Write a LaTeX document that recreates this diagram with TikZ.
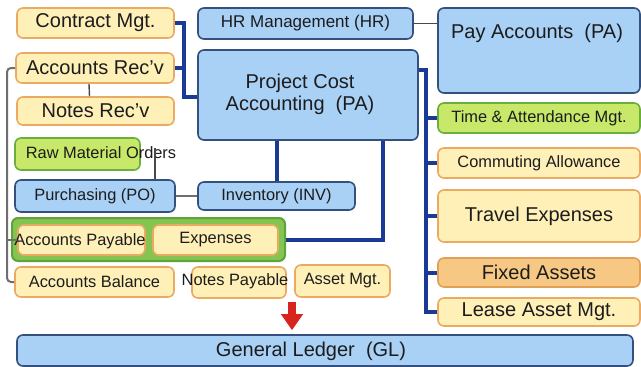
\documentclass[tikz,border=0pt]{standalone}
\usepackage{fontspec}
\setmainfont{Liberation Sans}
\usetikzlibrary{arrows.meta}
\definecolor{yfill}{HTML}{FFF0B8}
\definecolor{yline}{HTML}{EBAA62}
\definecolor{bfill}{HTML}{A9D0F5}
\definecolor{bline}{HTML}{34507E}
\definecolor{gfill}{HTML}{C8E86A}
\definecolor{gline}{HTML}{6AAE3C}
\definecolor{grpfill}{HTML}{84C552}
\definecolor{grpline}{HTML}{5FA33A}
\definecolor{ofill}{HTML}{F7C883}
\definecolor{oline}{HTML}{E0A058}
\definecolor{navy}{HTML}{1B3A96}
\definecolor{wire}{HTML}{6E6E6E}
\definecolor{txt}{HTML}{1C1C1C}
\definecolor{arrowred}{HTML}{D8241E}
\begin{document}
\begin{tikzpicture}[x=1pt,y=-1pt,
  box/.style={rounded corners=6pt, line width=1.6pt, inner sep=0pt, text=txt},
  ybox/.style={box, fill=yfill, draw=yline},
  bbox/.style={box, fill=bfill, draw=bline},
  gbox/.style={box, fill=gfill, draw=gline},
  obox/.style={box, fill=ofill, draw=oline},
  grpbox/.style={box, fill=grpfill, draw=grpline, line width=2pt},
  big/.style={font=\fontsize{20}{22}\selectfont},
  small/.style={font=\fontsize{16.4}{19}\selectfont},
  lbl/.style={inner sep=0pt, text=txt},
  thick wire/.style={draw=navy, line width=4pt},
  thin wire/.style={draw=wire, line width=2pt},
  fine wire/.style={draw=txt!80, line width=1.4pt},
  redarrow/.style={draw=arrowred, line width=8pt, -{Triangle[width=21pt,length=16pt]}},
]
\useasboundingbox (0,0) rectangle (641,367);

% left column
\node[ybox, big, minimum width=157pt, minimum height=30pt] (contract) at (95.5,23) {Contract Mgt.};
\node[ybox, big, minimum width=158pt, minimum height=30pt] (arec) at (95,68) {Accounts Rec'v};
\node[ybox, big, minimum width=157pt, minimum height=28pt] (nrec) at (95.5,111) {Notes Rec'v};
\node[gbox, minimum width=125pt, minimum height=32pt] (raw) at (77.5,154) {};
\node[lbl, small] (rawtext) at (101,153) {Raw Material Orders};
\node[bbox, small, minimum width=160pt, minimum height=32pt] (purch) at (95,196) {Purchasing (PO)};
\node[grpbox, minimum width=273pt, minimum height=43pt] (apgroup) at (148.5,239.5) {};
\node[ybox, minimum width=127pt, minimum height=30pt] (ap) at (81.5,240) {};
\node[lbl, small] (aptext) at (80,241) {Accounts Payable};
\node[ybox, small, minimum width=125pt, minimum height=30pt] (exp) at (215.5,240) {Expenses};
\node[ybox, small, minimum width=159pt, minimum height=30pt] (abal) at (94.5,282) {Accounts Balance};
\node[ybox, minimum width=94pt, minimum height=31pt] (npay) at (239,282.5) {};
\node[lbl, small] (npaytext) at (235,281) {Notes Payable};
\node[ybox, small, minimum width=95pt, minimum height=32pt] (asset) at (342.5,281) {Asset Mgt.};

% centre column
\node[bbox, font=\fontsize{17}{20}\selectfont, minimum width=215pt, minimum height=31pt] (hr) at (305.5,23.5) {HR Management (HR)};
\node[bbox, minimum width=220pt, minimum height=90pt] (pca) at (308,95) {};
\node[lbl, big, align=center] (pcatext) at (300,94) {Project Cost\\Accounting\ \ (PA)};
\node[bbox, small, minimum width=157pt, minimum height=28pt] (inv) at (276.5,196) {Inventory (INV)};

% right column
\node[bbox, minimum width=202pt, minimum height=85pt] (pay) at (539,50.5) {};
\node[lbl, big] (paytext) at (537,33) {Pay Accounts\ \ (PA)};
\node[gbox, small, minimum width=202pt, minimum height=30pt] (time) at (539,118) {Time \& Attendance Mgt.};
\node[ybox, small, minimum width=202pt, minimum height=30pt] (comm) at (539,163) {Commuting Allowance};
\node[ybox, big, minimum width=202pt, minimum height=52pt] (travel) at (539,216) {Travel Expenses};
\node[obox, big, minimum width=202pt, minimum height=29pt] (fixed) at (539,272.5) {Fixed Assets};
\node[ybox, big, minimum width=202pt, minimum height=28pt] (lease) at (539,312) {Lease Asset Mgt.};

% ledger
\node[bbox, minimum width=616pt, minimum height=31pt] (gl) at (325,350.5) {};
\node[lbl, big] (gltext) at (311,351) {General Ledger\ \ (GL)};

% junction points
\coordinate (jL) at (184,97);
\coordinate (jR) at (426,70);
\coordinate (jB) at (383,240);
\coordinate (bus) at (7,0);
\coordinate (rk) at (155,148);
\coordinate (ra) at (292,302);

% thick links
\draw[thick wire] (contract.east) -| (jL) -- (jL -| pca.west);
\draw[thick wire] (arec.east) -- (arec.east -| jL);
\draw[thick wire] (jR -| pca.east) -- (jR) |- (lease.west);
\foreach \n in {time,comm,travel,fixed}
  \draw[thick wire] (jR |- \n.west) -- (\n.west);
\draw[thick wire] (pca.south -| inv.north) -- (inv.north);
\draw[thick wire] (pca.south -| jB) -- (jB) -- (jB -| apgroup.east);

% thin links
\draw[fine wire] (hr.east) -- (hr.east -| pay.west);
\draw[thin wire] (purch.east) -- (inv.west);
\draw[fine wire] ([xshift=-6pt]arec.south) -- ([xshift=-6pt]nrec.north);
\draw[fine wire] (rk) -- (rk |- purch.north);
\draw[thin wire, rounded corners=4pt] (arec.west) -- (arec.west -| bus) -- (abal.west -| bus) -- (abal.west);
\draw[thin wire] (ap.west -| bus) -- (ap.west);

% flow into the ledger
\draw[redarrow, shorten >=4pt] (ra) -- (ra |- gl.north);
\end{tikzpicture}
\end{document}
